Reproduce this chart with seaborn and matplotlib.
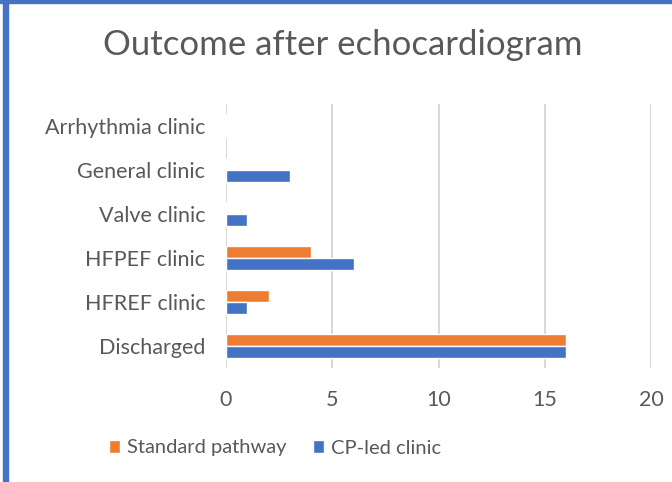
import matplotlib
matplotlib.use("Agg")
import matplotlib.pyplot as plt
import seaborn as sns
import pandas as pd
from matplotlib.patches import Rectangle

categories = ["Arrhythmia clinic", "General clinic", "Valve clinic",
              "HFPEF clinic", "HFREF clinic", "Discharged"]
standard_pathway = [0, 0, 0, 4, 2, 16]
cp_led_clinic = [0, 3, 1, 6, 1, 16]
series_names = ["Standard pathway", "CP-led clinic"]
x_ticks = [0, 5, 10, 15, 20]

df = pd.DataFrame({
    "Outcome": categories * 2,
    "Count": standard_pathway + cp_led_clinic,
    "Series": [series_names[0]] * len(categories) + [series_names[1]] * len(categories),
})

sns.set_style("white")
plt.rcParams["font.family"] = ["Lato", "DejaVu Sans"]
text_color = "#595959"

fig = plt.figure(figsize=(6.72, 4.82), dpi=100)
ax = fig.add_axes([226 / 672, 1 - 368 / 482, (651 - 226) / 672, (368 - 104) / 482])

sns.barplot(data=df, y="Outcome", x="Count", hue="Series", order=categories,
            hue_order=series_names, palette=["#ED7D31", "#4472C4"],
            width=0.55, orient="h", ax=ax, legend=True, saturation=1)

ax.set_xlim(0, 20)
ax.set_xticks(x_ticks)
ax.set_xlabel("")
ax.set_ylabel("")
ax.grid(axis="x", color="#d9d9d9", linewidth=1.5)
ax.set_axisbelow(True)
for s in ax.spines.values():
    s.set_visible(False)
ax.tick_params(axis="both", length=0, labelsize=15.5, labelcolor=text_color)
ax.tick_params(axis="x", pad=16)
ax.tick_params(axis="y", pad=15)

handles, labels = ax.get_legend_handles_labels()
ax.get_legend().remove()
fig.legend(handles, labels, loc="center", bbox_to_anchor=(275 / 672, 1 - 448 / 482),
           ncol=2, frameon=False, fontsize=14.5, labelcolor=text_color,
           handlelength=0.55, handleheight=0.6, handletextpad=0.35, columnspacing=1.3)

fig.text(343 / 672, 1 - 45 / 482, "Outcome after echocardiogram", ha="center", va="center",
         fontsize=25, color=text_color)

# border lines
fig.patches.append(Rectangle((3 / 672, 0), 5 / 672, 1, transform=fig.transFigure,
                             color="#4472C4", zorder=10))
fig.patches.append(Rectangle((0, 1 - 3 / 482), 1, 3 / 482, transform=fig.transFigure,
                             color="#4472C4", zorder=10))

fig.savefig("out.png", dpi=100)
